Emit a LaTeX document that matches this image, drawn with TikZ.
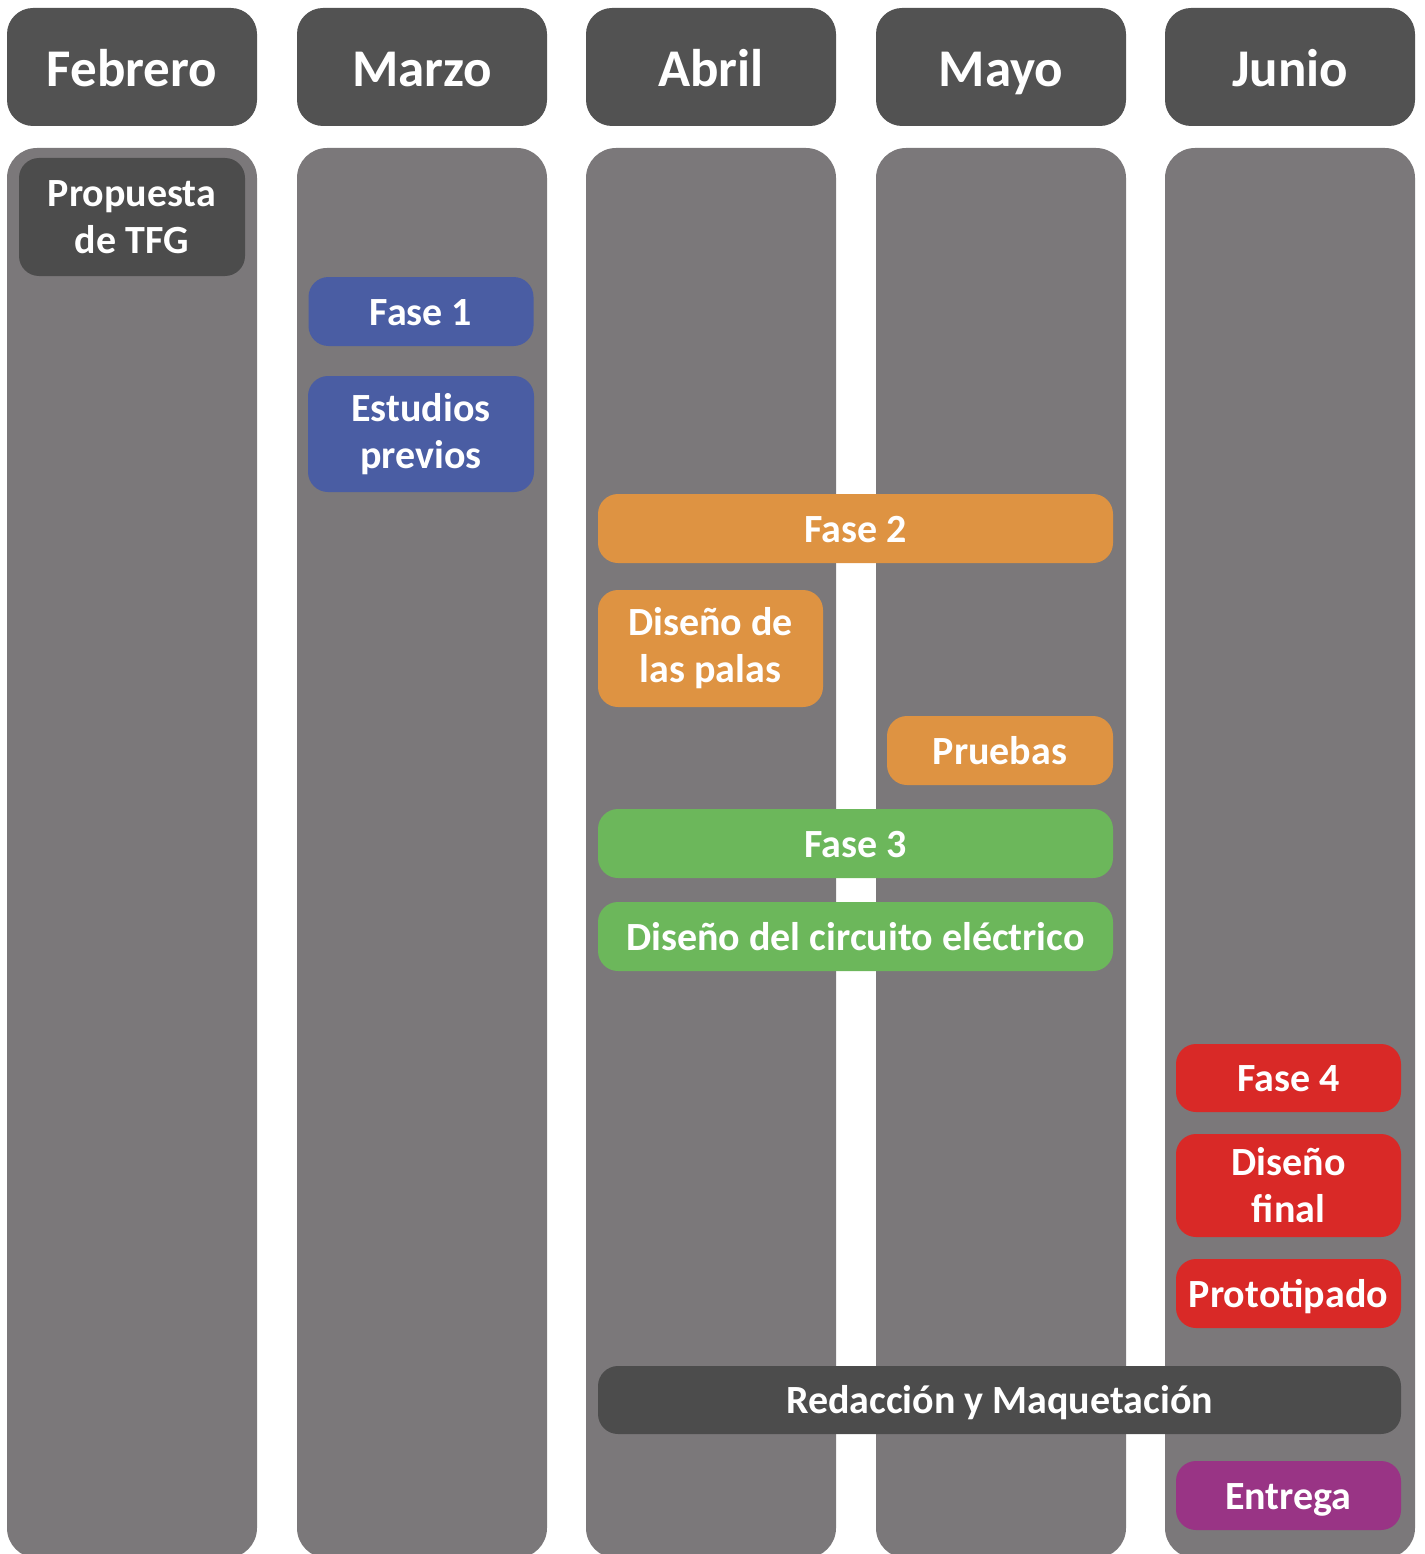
\documentclass[tikz,border=0pt]{standalone}
\usepackage{fontspec}
\setmainfont{Carlito}

\definecolor{mesgris}{HTML}{525252}
\definecolor{colgris}{HTML}{7B787A}
\definecolor{oscuro}{HTML}{4C4C4C}
\definecolor{azul}{HTML}{4A5DA3}
\definecolor{naranja}{HTML}{DE9342}
\definecolor{verde}{HTML}{6CB75B}
\definecolor{rojo}{HTML}{D92927}
\definecolor{morado}{HTML}{993485}

\begin{document}
\begin{tikzpicture}[x=1pt,y=-1pt,
  mes/.style={fill=mesgris,rounded corners=26pt,inner sep=0pt,
    minimum width=250pt,minimum height=118pt,text=white,
    text height=46pt,text depth=6pt,
    font=\fontsize{53}{58}\selectfont\bfseries},
  columna/.style={fill=colgris,rounded corners=30pt,inner sep=0pt,
    minimum width=250pt,minimum height=1410pt},
  tarea/.style={rounded corners=20pt,inner sep=0pt,minimum height=69pt,
    text=white,align=center,font=\fontsize{40}{47}\selectfont\bfseries},
  linea/.style={tarea,text height=34pt,text depth=7pt}]

\useasboundingbox (0,0) rectangle (1424,1554);

\node[mes] (feb) at (132,67) {Febrero};
\node[mes] (mar) at (422,67) {Marzo};
\node[mes] (abr) at (711,67) {Abril};
\node[mes] (may) at (1001,67) {Mayo};
\node[mes] (jun) at (1290,67) {Junio};

\node[columna] (cfeb) at (132,853) {};
\node[columna] (cmar) at (422,853) {};
\node[columna] (cabr) at (711,853) {};
\node[columna] (cmay) at (1001,853) {};
\node[columna] (cjun) at (1290,853) {};

\node[tarea,fill=oscuro,minimum width=226pt,minimum height=118pt] (propuesta) at (132,217)
{Propuesta\\de TFG};

\node[linea,fill=azul,minimum width=225pt] (fase1) at (421,311.5) {Fase 1};
\node[tarea,fill=azul,minimum width=226pt,minimum height=116pt] (estudios) at (421,434)
{Estudios\\previos};

\node[linea,fill=naranja,minimum width=515pt] (fase2) at (855.5,528.5) {Fase 2};
\node[tarea,fill=naranja,minimum width=225pt,minimum height=117pt] (palas) at (710.5,648.5)
{Diseño de\\las palas};
\node[linea,fill=naranja,minimum width=226pt] (pruebas) at (1000,750.5) {Pruebas};

\node[linea,fill=verde,minimum width=515pt] (fase3) at (855.5,843.5) {Fase 3};
\node[linea,fill=verde,minimum width=515pt] (circuito) at (855.5,936.5)
{Diseño del circuito eléctrico};

\node[linea,fill=rojo,minimum width=225pt,minimum height=68pt] (fase4) at (1288.5,1078) {Fase 4};
\node[tarea,fill=rojo,minimum width=225pt,minimum height=103pt] (final) at (1288.5,1185.5)
{Diseño\\final};
\node[linea,fill=rojo,minimum width=225pt] (prototipado) at (1288.5,1293.5) {Prototipado};

\node[linea,fill=oscuro,minimum width=803pt,minimum height=68pt] (redaccion) at (999.5,1400)
{Redacción y Maquetación};

\node[linea,fill=morado,minimum width=225pt] (entrega) at (1288.5,1495.5) {Entrega};

\end{tikzpicture}
\end{document}
